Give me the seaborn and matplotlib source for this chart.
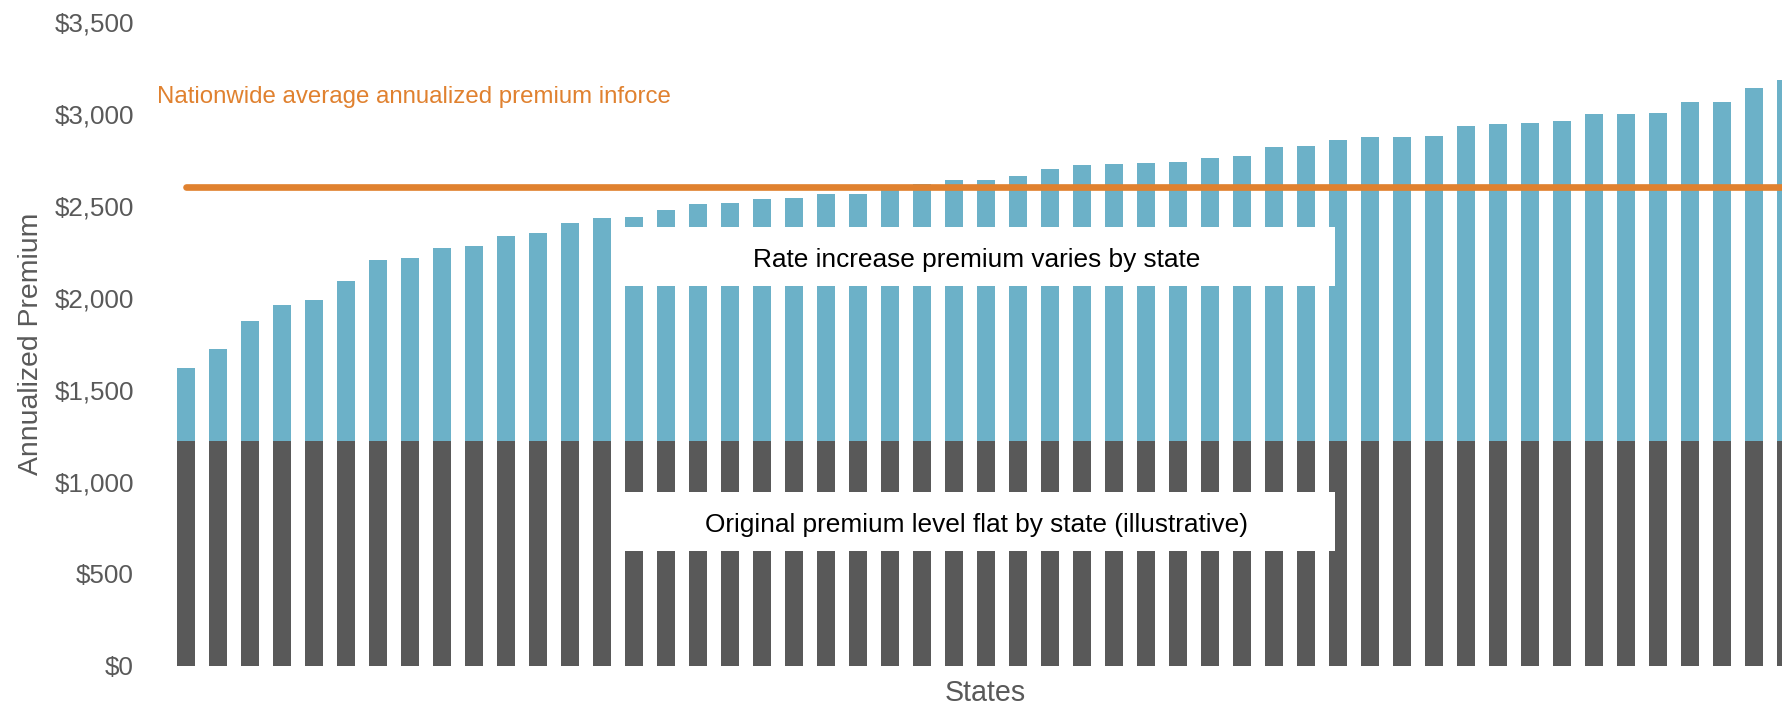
import numpy as np
import pandas as pd
import matplotlib
matplotlib.use("Agg")
import matplotlib.pyplot as plt
from matplotlib.patches import Rectangle
import seaborn as sns

# premium per state, sorted low to high (51 states incl. DC)
total_premium = [1620, 1721, 1874, 1962, 1988, 2091, 2205, 2216, 2271, 2279,
                 2337, 2350, 2407, 2433, 2437, 2474, 2507, 2516, 2538, 2543,
                 2563, 2565, 2598, 2618, 2637, 2638, 2660, 2697, 2722, 2726,
                 2731, 2739, 2759, 2768, 2819, 2826, 2857, 2874, 2874, 2878,
                 2931, 2945, 2949, 2960, 2996, 3000, 3005, 3063, 3065, 3140,
                 3185]
original_premium = 1220
nationwide_avg = 2600
state_rank = list(range(1, len(total_premium) + 1))
yticks = [0, 500, 1000, 1500, 2000, 2500, 3000, 3500]

teal = "#6CB1C8"
gray = "#595959"
orange = "#E0812F"

df = pd.DataFrame({"state": state_rank,
                   "total": total_premium,
                   "original": [original_premium] * len(state_rank)})

sns.set_style("white")
plt.rcParams["font.family"] = ["Liberation Sans", "DejaVu Sans"]

fig = plt.figure(figsize=(17.82, 7.06), dpi=100)
ax = fig.add_axes([150 / 1782, 40.5 / 706, 1632 / 1782, 643.8 / 706])

sns.barplot(data=df, x="state", y="total", color=teal, width=0.5625,
            linewidth=0, saturation=1, ax=ax, zorder=2)
sns.barplot(data=df, x="state", y="original", color=gray, width=0.5625,
            linewidth=0, saturation=1, ax=ax, zorder=2)

pos = np.arange(len(state_rank))
sns.lineplot(x=pos, y=[nationwide_avg] * len(pos), color=orange, linewidth=4.8,
             solid_capstyle="round", ax=ax, zorder=5)

# white label boxes over the bars
ax.add_patch(Rectangle((13.28, 2065), 22.62, 321, facecolor="white",
                       edgecolor="none", zorder=4))
ax.add_patch(Rectangle((13.28, 622), 22.62, 323, facecolor="white",
                       edgecolor="none", zorder=4))
ax.text(24.7, 2205, "Rate increase premium varies by state", ha="center",
        va="center", fontsize=18.9, color="black", zorder=6)
ax.text(24.7, 763, "Original premium level flat by state (illustrative)",
        ha="center", va="center", fontsize=18.9, color="black", zorder=6)
ax.text(-0.906, 3090, "Nationwide average annualized premium inforce",
        ha="left", va="center", fontsize=17.3, color=orange, zorder=6)

ax.set_xlim(-1.125, 49.875)
ax.set_ylim(0, 3500)
ax.set_yticks(yticks)
ax.set_yticklabels([f"${v:,.0f}" for v in yticks], fontsize=18.7, color=gray)
ax.set_xticks([])
ax.tick_params(axis="y", length=0, pad=11.5)
for s in ax.spines.values():
    s.set_visible(False)

ax.set_ylabel("Annualized Premium", fontsize=20.4, color=gray, va="center")
ax.yaxis.set_label_coords(-0.073, 0.5)
ax.set_xlabel("States", fontsize=20.6, color=gray, va="center")
ax.xaxis.set_label_coords(0.512, -0.042)

fig.savefig("out.png", dpi=100)
